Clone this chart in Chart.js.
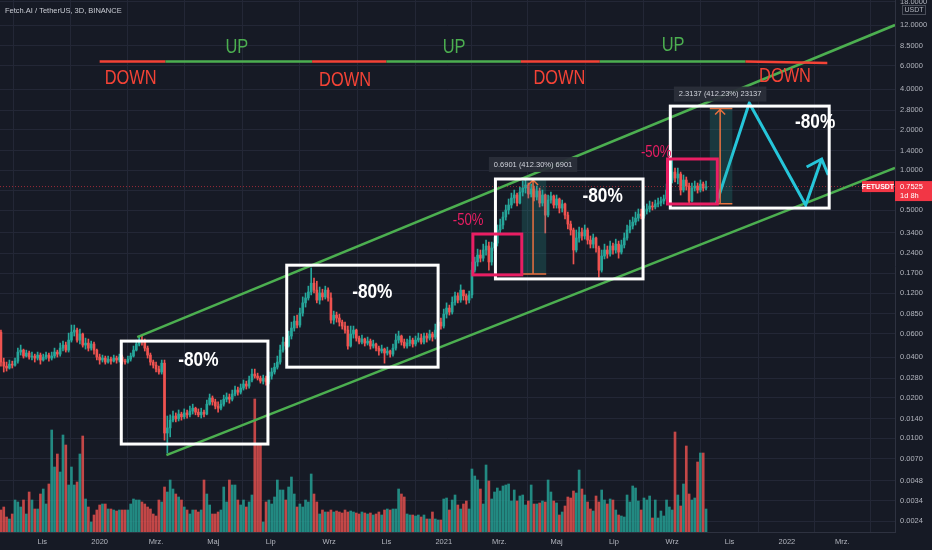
<!DOCTYPE html>
<html>
<head>
<meta charset="utf-8">
<script src="https://cdn.jsdelivr.net/npm/chart.js@4.4.1/dist/chart.umd.min.js"></script>
<style>
  html, body { margin: 0; padding: 0; background: #161a25; }
  canvas { display: block; }
</style>
</head>
<body>
<canvas id="chart" width="932" height="550"></canvas>
<script>
// FET/USDT 3D candles, Binance, with channel + cycle annotations
const START = Date.UTC(2019, 8, 17);
const dayOf = s => (Date.parse(s + 'T00:00:00Z') - START) / 864e5;
const CANDLE_STEP = 3;            // 3-day candles
const FIRST_CANDLE_DAY = 1;

const firstOpen = 0.0617;
const closes = [
  .0369,.0344,.0333,.0356,.0350,.0375,.0438,.0453,.0409,.0431,
  .0402,.0409,.0395,.0416,.0382,.0402,.0416,.0395,.0409,.0438,
  .0423,.0469,.0494,.0453,.0538,.0617,.0639,.0538,.0597,.0494,
  .0511,.0469,.0503,.0453,.0402,.0382,.0395,.0369,.0388,.0375,
  .0395,.0382,.0402,.0375,.0369,.0388,.0409,.0453,.0503,.0538,
  .0529,.0469,.0416,.0369,.0350,.0327,.0311,.0362,.0109,.0119,
  .0136,.0146,.0139,.0151,.0144,.0154,.0149,.0159,.0167,.0156,
  .0149,.0156,.0151,.0179,.0199,.0186,.0173,.0167,.0179,.0195,
  .0202,.0195,.0213,.0228,.0220,.0236,.0253,.0244,.0271,.0300,
  .0290,.0280,.0266,.0280,.0262,.0290,.0311,.0338,.0369,.0453,
  .0520,.0486,.0577,.0662,.0746,.0697,.0856,.102,.111,.123,
  .143,.127,.107,.121,.113,.127,.111,.0759,.0827,.0786,
  .0733,.0685,.0639,.0486,.0597,.0639,.0557,.0520,.0548,.0511,
  .0529,.0486,.0503,.0469,.0446,.0461,.0431,.0446,.0423,.0469,
  .0538,.0577,.0520,.0486,.0511,.0538,.0503,.0538,.0557,.0520,
  .0577,.0557,.0597,.0567,.0639,.0733,.0685,.0841,.0933,.0871,
  .103,.115,.107,.127,.115,.107,.117,.179,.206,.232,
  .220,.253,.271,.206,.262,.285,.357,.389,.446,.503,
  .548,.618,.651,.567,.685,.734,.773,.662,.722,.629,
  .697,.567,.651,.461,.597,.640,.548,.608,.520,.558,
  .461,.395,.357,.253,.311,.344,.322,.357,.300,.280,
  .311,.262,.179,.228,.253,.236,.271,.253,.280,.244,
  .276,.311,.357,.382,.409,.438,.469,.454,.494,.512,
  .539,.530,.558,.567,.587,.608,.709,.842,.966,.872,
  .934,.709,.842,.760,.587,.734,.760,.709,.786,.734,.7525
];
const highs = [
  .0639,.0395,.0369,.0382,.0375,.0395,.0469,.0494,.0461,.0453,
  .0446,.0438,.0423,.0438,.0431,.0423,.0438,.0431,.0438,.0469,
  .0453,.0511,.0529,.0520,.0607,.0697,.0697,.0662,.0650,.0607,
  .0557,.0548,.0529,.0520,.0461,.0423,.0416,.0409,.0409,.0402,
  .0416,.0409,.0423,.0416,.0388,.0409,.0431,.0486,.0538,.0577,
  .0577,.0548,.0486,.0431,.0382,.0369,.0344,.0382,.0382,.0146,
  .0149,.0159,.0154,.0162,.0156,.0165,.0162,.0173,.0179,.0170,
  .0165,.0167,.0162,.0192,.0213,.0206,.0195,.0186,.0192,.0209,
  .0217,.0213,.0228,.0244,.0240,.0253,.0271,.0266,.0290,.0327,
  .0327,.0305,.0290,.0295,.0290,.0311,.0333,.0362,.0409,.0494,
  .0567,.0557,.0628,.0733,.0813,.0827,.0933,.113,.121,.136,
  .186,.156,.148,.134,.129,.136,.132,.121,.0886,.0871,
  .0841,.0759,.0733,.0685,.0685,.0685,.0650,.0577,.0587,.0557,
  .0567,.0548,.0538,.0511,.0486,.0494,.0469,.0477,.0453,.0503,
  .0597,.0628,.0587,.0548,.0548,.0577,.0557,.0577,.0607,.0597,
  .0607,.0607,.0639,.0617,.0709,.0799,.0786,.0917,.102,.0982,
  .113,.123,.121,.139,.127,.119,.125,.206,.224,.257,
  .253,.280,.300,.290,.290,.316,.389,.431,.486,.548,
  .608,.673,.709,.673,.747,.828,.842,.800,.786,.760,
  .760,.734,.709,.662,.651,.685,.651,.651,.618,.597,
  .567,.486,.416,.369,.357,.375,.369,.389,.369,.322,
  .333,.316,.271,.253,.280,.271,.295,.285,.305,.295,
  .300,.339,.389,.423,.446,.486,.512,.512,.539,.558,
  .587,.577,.597,.618,.629,.651,.786,.934,1.188,1.035,
  1.035,.966,.918,.887,.800,.800,.828,.800,.842,.814,.828
];
const lows = [
  .0344,.0311,.0316,.0327,.0333,.0344,.0362,.0416,.0395,.0402,
  .0388,.0382,.0369,.0382,.0356,.0375,.0388,.0375,.0382,.0395,
  .0402,.0409,.0446,.0438,.0438,.0520,.0577,.0520,.0503,.0477,
  .0461,.0446,.0453,.0423,.0382,.0356,.0369,.0356,.0362,.0356,
  .0369,.0362,.0369,.0356,.0356,.0362,.0375,.0402,.0446,.0486,
  .0494,.0446,.0395,.0350,.0333,.0311,.0300,.0300,.00965,.00772,
  .0102,.0132,.0132,.0134,.0136,.0139,.0141,.0144,.0151,.0149,
  .0144,.0141,.0144,.0149,.0176,.0176,.0165,.0156,.0162,.0173,
  .0186,.0182,.0189,.0206,.0209,.0213,.0228,.0232,.0236,.0262,
  .0280,.0271,.0257,.0253,.0248,.0253,.0275,.0300,.0327,.0356,
  .0438,.0461,.0477,.0548,.0628,.0662,.0673,.0813,.0949,.107,
  .117,.121,.102,.0999,.107,.109,.105,.0721,.0709,.0733,
  .0685,.0650,.0607,.0461,.0477,.0557,.0529,.0503,.0503,.0486,
  .0494,.0461,.0469,.0446,.0416,.0431,.0362,.0416,.0402,.0409,
  .0453,.0511,.0494,.0469,.0469,.0486,.0477,.0486,.0520,.0503,
  .0503,.0520,.0538,.0529,.0548,.0607,.0650,.0662,.0786,.0827,
  .0841,.0982,.102,.103,.107,.0999,.102,.111,.173,.192,
  .206,.209,.232,.179,.195,.249,.271,.333,.363,.423,
  .469,.520,.567,.539,.558,.640,.673,.618,.629,.587,
  .597,.530,.539,.339,.446,.567,.520,.520,.478,.486,
  .431,.363,.327,.199,.244,.290,.300,.305,.280,.262,
  .262,.244,.159,.173,.217,.220,.228,.236,.240,.220,
  .236,.262,.300,.339,.363,.389,.416,.431,.438,.469,
  .486,.503,.512,.530,.539,.558,.587,.662,.800,.814,
  .786,.651,.685,.709,.567,.577,.697,.673,.685,.697,.709
];
// volume, millions of FET (estimated)
const volumes = [
  22,25,15,13,18,32,30,25,32,18,
  40,32,23,23,38,43,28,48,102,65,
  78,60,97,87,47,65,47,50,78,96,
  33,25,10,17,22,27,28,28,23,23,
  22,21,22,22,22,22,28,33,32,32,
  30,28,25,23,18,16,32,30,45,40,
  52,43,38,35,32,25,22,18,22,22,
  20,22,52,38,27,18,18,20,22,45,
  30,52,47,47,32,27,32,25,30,37,
  133,88,88,10,30,32,28,35,52,42,
  42,32,45,55,38,25,28,25,32,30,
  58,38,30,18,22,20,20,22,20,21,
  20,19,22,20,21,20,19,18,20,19,
  18,19,17,18,20,17,22,23,22,23,
  23,43,38,35,18,17,17,16,17,15,
  17,13,13,20,13,12,12,33,34,22,
  32,37,27,23,28,31,23,63,56,52,
  43,28,67,51,33,40,44,41,46,47,
  48,31,42,31,36,37,27,31,47,28,
  28,29,31,30,52,40,31,29,17,20,
  26,35,34,41,39,62,43,37,30,23,
  21,36,30,42,32,28,33,32,22,17,
  16,15,37,30,46,44,31,22,34,32,
  36,14,32,14,21,16,32,25,22,100,
  37,26,48,86,38,32,34,70,79,79,23
];

const xTickDates = ['2019-11-01','2020-01-01','2020-03-01','2020-05-01','2020-07-01','2020-09-01','2020-11-01',
  '2021-01-01','2021-03-01','2021-05-01','2021-07-01','2021-09-01','2021-11-01','2022-01-01','2022-03-01'];
const xTickLabels = ['Lis','2020','Mrz.','Maj','Lip','Wrz','Lis','2021','Mrz.','Maj','Lip','Wrz','Lis','2022','Mrz.'];
const yTickValues = [0.0024,0.0034,0.0048,0.007,0.01,0.014,0.02,0.028,0.04,0.06,0.085,0.12,0.17,0.24,0.34,0.5,0.7,1,1.4,2,2.8,4,6,8.5,12,18];

// drawings (date, price)
const channelUpper = [['2020-02-10', 0.0567], ['2022-04-26', 12.08]];
const channelLower = [['2020-03-12', 0.00746], ['2022-04-26', 1.035]];
const cyclePoints = [['2020-01-01',6.45],['2020-03-11',6.45],['2020-08-14',6.45],['2020-11-01',6.45],
  ['2021-03-24',6.45],['2021-06-16',6.45],['2021-11-18',6.45],['2022-02-13',6.3]];
const cycleColors = ['#f44336','#4caf50','#f44336','#4caf50','#f44336','#4caf50','#f44336'];
const cycleLabels = [['DOWN','2020-02-03',4.86],['UP','2020-05-26',8.28],['DOWN','2020-09-18',4.62],['UP','2021-01-12',8.28],
  ['DOWN','2021-05-04',4.78],['UP','2021-09-02',8.57],['DOWN','2021-12-30',5.03]];
const projection = [['2021-10-18',0.5613],['2021-11-22',3.16],['2022-01-21',0.548],['2022-02-07',1.209]];
const projectionHead = [['2022-01-22',1.053],['2022-02-07',1.209],['2022-02-14',0.918]];
const drawdownBoxes = [['2020-01-24','2020-06-28',0.0529,0.00902],['2020-07-18','2020-12-26',0.195,0.0338],
  ['2021-02-25','2021-08-01',0.857,0.154],['2021-08-30','2022-02-15',3.0,0.52]];
const drawdownLabels = [['-80%','2020-04-15',0.0382],['-80%','2020-10-17',0.123],['-80%','2021-06-19',0.64],['-80%','2022-01-31',2.28]];
const pullbackBoxes = [['2021-02-01','2021-03-25',0.333,0.165],['2021-08-27','2021-10-19',1.209,0.558]];
const pullbackLabels = [['-50%','2021-01-27',0.416],['-50%','2021-08-15',1.34]];
const measures = [
  ['2021-03-25','2021-04-20','2021-04-06',0.1674,0.8575,'0.6901 (412.30%) 6901'],
  ['2021-10-11','2021-11-04','2021-10-22',0.5613,2.875,'2.3137 (412.23%) 23137']
];
const lastPrice = 0.7525;

const SANS = '"Liberation Sans", Arial, sans-serif';
const UP = '#26a69a', DOWN = '#ef5350';

const candleDay = i => FIRST_CANDLE_DAY + CANDLE_STEP * i;
const opens = closes.map((c, i) => i === 0 ? firstOpen : closes[i - 1]);
const isUp = closes.map((c, i) => c >= opens[i]);
const pts = arr => arr.map(([d, p]) => ({ x: dayOf(d), y: p }));

// condensed text: Liberation Sans squeezed horizontally
function narrowText(ctx, text, x, y, font, color) {
  ctx.save();
  ctx.translate(x, y);
  ctx.scale(0.82, 1);
  ctx.font = font + ' ' + SANS;
  ctx.fillStyle = color;
  ctx.textAlign = 'center';
  ctx.textBaseline = 'middle';
  ctx.fillText(text, 0, 0);
  ctx.restore();
}

const background = {
  id: 'background',
  beforeDraw(chart) {
    const { ctx, width, height } = chart;
    ctx.save();
    ctx.fillStyle = '#161a25';
    ctx.fillRect(0, 0, width, height);
    ctx.restore();
  }
};

const drawings = {
  id: 'drawings',
  afterDatasetsDraw(chart) {
    const { ctx, chartArea: a, scales: { x, y } } = chart;
    const X = d => x.getPixelForValue(dayOf(d));
    const Y = p => y.getPixelForValue(p);
    ctx.save();
    ctx.beginPath();
    ctx.rect(a.left, a.top, a.right - a.left, a.bottom - a.top);
    ctx.clip();

    // price range measurements
    measures.forEach(([d0, d1, dm, lo, hi, text]) => {
      const x0 = X(d0), x1 = X(d1), xm = X(dm), yl = Y(lo), yh = Y(hi);
      ctx.fillStyle = 'rgba(38,166,154,0.22)';
      ctx.fillRect(x0, yh, x1 - x0, yl - yh);
      ctx.strokeStyle = '#e8703f';
      ctx.lineWidth = 1.5;
      ctx.beginPath();
      ctx.moveTo(x0, yl); ctx.lineTo(x1, yl);
      ctx.moveTo(x0, yh); ctx.lineTo(x1, yh);
      ctx.moveTo(xm, yl); ctx.lineTo(xm, yh);
      ctx.moveTo(xm - 5, yh + 6); ctx.lineTo(xm, yh + 1); ctx.lineTo(xm + 5, yh + 6);
      ctx.stroke();
      ctx.font = '7.5px ' + SANS;
      const w = ctx.measureText(text).width + 10;
      ctx.fillStyle = 'rgba(42,46,57,0.95)';
      ctx.fillRect(xm - w / 2, yh - 22, w, 15);
      ctx.fillStyle = '#d1d4dc';
      ctx.textAlign = 'center';
      ctx.textBaseline = 'middle';
      ctx.fillText(text, xm, yh - 14.5);
    });

    ctx.lineWidth = 3;
    ctx.strokeStyle = '#ffffff';
    drawdownBoxes.forEach(([d0, d1, p0, p1]) => {
      ctx.strokeRect(X(d0), Y(p0), X(d1) - X(d0), Y(p1) - Y(p0));
    });
    ctx.strokeStyle = '#e91e63';
    pullbackBoxes.forEach(([d0, d1, p0, p1]) => {
      ctx.strokeRect(X(d0), Y(p0), X(d1) - X(d0), Y(p1) - Y(p0));
    });

    drawdownLabels.forEach(([t, d, p]) => narrowText(ctx, t, X(d), Y(p), 'bold 21px', '#ffffff'));
    pullbackLabels.forEach(([t, d, p]) => narrowText(ctx, t, X(d), Y(p), '16px', '#e91e63'));
    cycleLabels.forEach(([t, d, p]) => narrowText(ctx, t, X(d), Y(p), '20px', t === 'UP' ? '#4caf50' : '#f44336'));
    ctx.restore();

    // last price tags
    const yp = Y(lastPrice);
    ctx.save();
    ctx.fillStyle = '#f23645';
    ctx.fillRect(a.right - 33, yp - 5.5, 32, 11);
    ctx.fillRect(a.right, yp - 5.5, 37, 20);
    ctx.fillStyle = '#ffffff';
    ctx.textBaseline = 'middle';
    ctx.textAlign = 'center';
    ctx.font = 'bold 7px ' + SANS;
    ctx.fillText('FETUSDT', a.right - 17, yp);
    ctx.textAlign = 'left';
    ctx.font = '7.5px ' + SANS;
    ctx.fillText(lastPrice.toFixed(4), a.right + 5, yp);
    ctx.fillText('1d 8h', a.right + 5, yp + 9.5);

    // currency badge + title
    ctx.fillStyle = '#161a25';
    ctx.fillRect(a.right + 7, 5, 25, 10);
    ctx.strokeStyle = '#4a4e59';
    ctx.lineWidth = 1;
    ctx.strokeRect(a.right + 7.5, 5.5, 23, 9);
    ctx.fillStyle = '#b2b5be';
    ctx.font = '7px ' + SANS;
    ctx.textAlign = 'center';
    ctx.fillText('USDT', a.right + 19, 10.5);
    ctx.textAlign = 'left';
    ctx.fillStyle = '#c8cbd3';
    ctx.font = '7.5px ' + SANS;
    ctx.fillText('Fetch.AI / TetherUS, 3D, BINANCE', 5, 10.5);
    ctx.restore();
  }
};

const lineDs = (data, color, width, order, extra) => Object.assign({
  type: 'line', data, borderColor: color, borderWidth: width, pointRadius: 0,
  fill: false, tension: 0, order
}, extra || {});

new Chart(document.getElementById('chart'), {
  type: 'bar',
  data: {
    datasets: [
      lineDs(pts(cyclePoints), '#4caf50', 2.5, 1, { segment: { borderColor: c => cycleColors[c.p0DataIndex] } }),
      lineDs(pts(projection), '#26c6da', 3, 1),
      lineDs(pts(projectionHead), '#26c6da', 3, 1),
      lineDs(pts(channelUpper), '#4caf50', 2.5, 2),
      lineDs(pts(channelLower), '#4caf50', 2.5, 2),
      lineDs([{ x: 0, y: lastPrice }, { x: 952, y: lastPrice }], 'rgba(242,54,69,0.6)', 1, 7, { borderDash: [1, 2] }),
      {
        label: 'body', grouped: false, order: 8, barThickness: 2, minBarLength: 1,
        data: closes.map((c, i) => ({ x: candleDay(i), y: [opens[i], c] })),
        backgroundColor: isUp.map(u => u ? UP : DOWN)
      },
      {
        label: 'wick', grouped: false, order: 9, barThickness: 1,
        data: closes.map((c, i) => ({ x: candleDay(i), y: [Math.min(lows[i], opens[i], c), Math.max(highs[i], opens[i], c)] })),
        backgroundColor: isUp.map(u => u ? UP : DOWN)
      },
      {
        label: 'volume', grouped: false, order: 10, barThickness: 2, yAxisID: 'yv',
        data: volumes.map((v, i) => ({ x: candleDay(i), y: v })),
        backgroundColor: isUp.map(u => u ? 'rgba(38,166,154,0.8)' : 'rgba(239,83,80,0.8)')
      }
    ]
  },
  options: {
    responsive: false,
    animation: false,
    events: [],
    layout: { padding: 0 },
    plugins: { legend: { display: false }, tooltip: { enabled: false } },
    scales: {
      x: {
        type: 'linear', min: 0, max: 952, offset: false,
        afterBuildTicks: s => { s.ticks = xTickDates.map(d => ({ value: dayOf(d) })); },
        afterFit: s => { s.height = 18; s.paddingLeft = 0; s.paddingRight = 0; },
        ticks: {
          autoSkip: false, maxRotation: 0, padding: 5, color: '#b2b5be',
          font: { size: 7.5, family: SANS },
          callback: (v, i) => xTickLabels[i]
        },
        grid: { color: '#232736', drawTicks: false },
        border: { color: '#2e3240' }
      },
      y: {
        type: 'logarithmic', position: 'right', min: 0.00199, max: 18.57,
        afterBuildTicks: s => { s.ticks = yTickValues.map(v => ({ value: v })); },
        afterFit: s => { s.width = 37; s.paddingTop = 0; s.paddingBottom = 0; },
        ticks: {
          autoSkip: false, padding: 5, color: '#b2b5be',
          font: { size: 7.5, family: SANS },
          callback: v => Number(v).toFixed(4)
        },
        grid: { color: '#232736', drawTicks: false },
        border: { color: '#2e3240' }
      },
      yv: { type: 'linear', display: false, min: 0, max: 532 }
    }
  },
  plugins: [background, drawings]
});
</script>
</body>
</html>
